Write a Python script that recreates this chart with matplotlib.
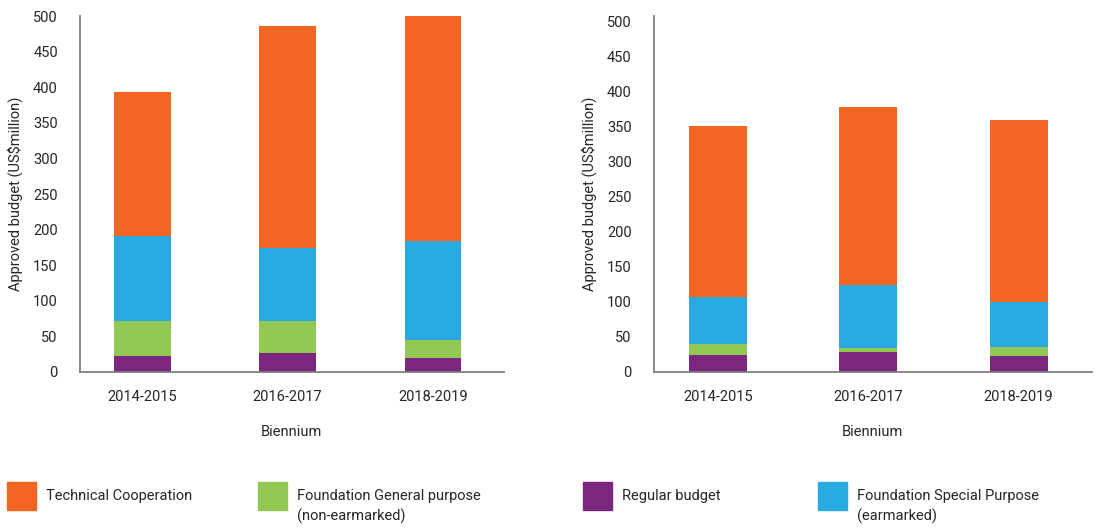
import matplotlib
matplotlib.use('Agg')
import matplotlib.pyplot as plt
from matplotlib.patches import Rectangle
import numpy as np

plt.rcParams['font.family'] = ['Roboto', 'DejaVu Sans']

biennia = ['2014-2015', '2016-2017', '2018-2019']
series = ['Regular budget', 'Foundation General purpose\n(non-earmarked)',
          'Foundation Special Purpose\n(earmarked)', 'Technical Cooperation']
colors = ['#7D2680', '#92C954', '#29ABE2', '#F26522']

# left panel (US$ million)
left_regular = [22.5, 27, 19.7]
left_general = [49.3, 44.8, 25.3]
left_special = [119.6, 101.7, 139.4]
left_tc = [202.6, 312, 315.6]

# right panel (US$ million)
right_regular = [24, 29, 23]
right_general = [16, 4.8, 13]
right_special = [67.5, 90.2, 64]
right_tc = [243.5, 254.5, 259.5]

yticks = np.arange(0, 501, 50)
txt = '#262626'

fig = plt.figure(figsize=(11.12, 5.28), dpi=100)


def panel(rect, data, width, xlim, ylim):
    ax = fig.add_axes(rect)
    x = np.arange(len(biennia))
    bottom = np.zeros(len(biennia))
    for vals, c in zip(data, colors):
        ax.bar(x, vals, width, bottom=bottom, color=c, linewidth=0)
        bottom += np.array(vals)
    ax.set_xlim(*xlim)
    ax.set_ylim(*ylim)
    ax.set_yticks(yticks)
    ax.set_xticks(x)
    ax.set_xticklabels(biennia)
    ax.tick_params(length=0, labelsize=10.5, colors=txt)
    ax.tick_params(axis='y', pad=16)
    ax.tick_params(axis='x', pad=13)
    for s in ['top', 'right']:
        ax.spines[s].set_visible(False)
    for s in ['left', 'bottom']:
        ax.spines[s].set_color('#7f7f7f')
        ax.spines[s].set_linewidth(1.3)
    ax.set_xlabel('Biennium', fontsize=10.5, color=txt, labelpad=15)
    ax.set_ylabel('Approved budget (US\\$million)', fontsize=10.5, color=txt, labelpad=7)
    return ax


panel([0.072, 0.2955, 0.381, 0.674],
      [left_regular, left_general, left_special, left_tc], 0.39, (-0.428, 2.486), (0, 500))
panel([0.588, 0.2955, 0.394, 0.674],
      [right_regular, right_general, right_special, right_tc], 0.386, (-0.426, 2.488), (0, 508))

# legend along the bottom
legend_order = [3, 1, 0, 2]
legend_x = [7, 258, 583, 818]
W, H = 1112, 528
for i, lx in zip(legend_order, legend_x):
    fig.patches.append(Rectangle((lx / W, (H - 510) / H), 29 / W, 28 / H,
                                 transform=fig.transFigure, color=colors[i]))
    fig.text((lx + 39) / W, (H - 489) / H, series[i], fontsize=10.5, color=txt,
             va='top', ha='left', linespacing=1.45)

fig.savefig('out.png', dpi=100)
